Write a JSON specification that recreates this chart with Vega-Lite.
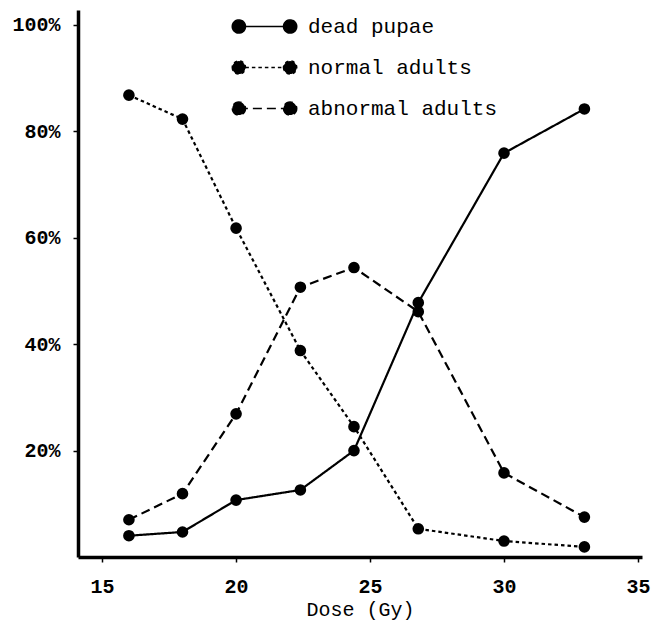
{
  "$schema": "https://vega.github.io/schema/vega-lite/v6.json",
  "autosize": "none",
  "width": 564,
  "height": 547,
  "padding": {"left": 78, "top": 10, "right": 9, "bottom": 67},
  "background": "white",
  "config": {
    "view": {"stroke": null},
    "axis": {
      "domainColor": "black",
      "domainWidth": 3.5,
      "tickColor": "black",
      "tickWidth": 1.5,
      "tickSize": 5,
      "grid": false,
      "labelFont": "Liberation Mono",
      "labelColor": "black",
      "labelFontSize": 20,
      "labelFontWeight": "bold",
      "titleFont": "Liberation Mono",
      "titleColor": "black",
      "titleFontSize": 20,
      "titleFontWeight": "normal"
    }
  },
  "data": {
    "values": [
      {"dose": 16, "pct": 4.0, "group": "dead pupae"},
      {"dose": 18, "pct": 4.7, "group": "dead pupae"},
      {"dose": 20, "pct": 10.7, "group": "dead pupae"},
      {"dose": 22.4, "pct": 12.6, "group": "dead pupae"},
      {"dose": 24.4, "pct": 20.0, "group": "dead pupae"},
      {"dose": 26.8, "pct": 47.8, "group": "dead pupae"},
      {"dose": 30, "pct": 75.9, "group": "dead pupae"},
      {"dose": 33, "pct": 84.2, "group": "dead pupae"},
      {"dose": 16, "pct": 86.8, "group": "normal adults"},
      {"dose": 18, "pct": 82.3, "group": "normal adults"},
      {"dose": 20, "pct": 61.8, "group": "normal adults"},
      {"dose": 22.4, "pct": 38.8, "group": "normal adults"},
      {"dose": 24.4, "pct": 24.5, "group": "normal adults"},
      {"dose": 26.8, "pct": 5.3, "group": "normal adults"},
      {"dose": 30, "pct": 3.0, "group": "normal adults"},
      {"dose": 33, "pct": 1.9, "group": "normal adults"},
      {"dose": 16, "pct": 7.0, "group": "abnormal adults"},
      {"dose": 18, "pct": 11.9, "group": "abnormal adults"},
      {"dose": 20, "pct": 26.9, "group": "abnormal adults"},
      {"dose": 22.4, "pct": 50.7, "group": "abnormal adults"},
      {"dose": 24.4, "pct": 54.4, "group": "abnormal adults"},
      {"dose": 26.8, "pct": 46.1, "group": "abnormal adults"},
      {"dose": 30, "pct": 15.8, "group": "abnormal adults"},
      {"dose": 33, "pct": 7.5, "group": "abnormal adults"}
    ]
  },
  "encoding": {
    "x": {
      "field": "dose",
      "type": "quantitative",
      "scale": {"domain": [14.1, 35.15], "nice": false, "zero": false},
      "axis": {
        "values": [15, 20, 25, 30, 35],
        "title": "Dose (Gy)",
        "labelPadding": 14,
        "titlePadding": 3
      }
    },
    "y": {
      "field": "pct",
      "type": "quantitative",
      "scale": {"domain": [0, 102.8], "nice": false},
      "axis": {
        "values": [20, 40, 60, 80, 100],
        "labelExpr": "datum.value + '%'",
        "title": null,
        "labelPadding": 13
      }
    }
  },
  "layer": [
    {
      "mark": {"type": "line", "color": "black", "strokeWidth": 2.2},
      "encoding": {
        "strokeDash": {
          "field": "group",
          "type": "nominal",
          "scale": {
            "domain": ["dead pupae", "normal adults", "abnormal adults"],
            "range": [[1, 0], [3.5, 3], [9, 5]]
          },
          "legend": {
            "title": null,
            "orient": "none",
            "legendX": 165,
            "legendY": -5,
            "padding": 0,
            "rowPadding": 9,
            "symbolType": "M-1.25,0L1.25,0M-1.57,0A0.32,0.32 0 1,0 -0.93,0A0.32,0.32 0 1,0 -1.57,0ZM0.93,0A0.32,0.32 0 1,0 1.57,0A0.32,0.32 0 1,0 0.93,0Z",
            "symbolSize": 1681,
            "symbolFillColor": "black",
            "symbolStrokeColor": "black",
            "symbolStrokeWidth": 1.6,
            "labelOffset": 22,
            "labelFont": "Liberation Mono",
            "labelFontSize": 21,
            "labelColor": "black",
            "labelLimit": 400
          }
        }
      }
    },
    {
      "mark": {"type": "point", "shape": "circle", "filled": true, "color": "black", "size": 135, "opacity": 1},
      "encoding": {"detail": {"field": "group", "type": "nominal"}}
    }
  ]
}
